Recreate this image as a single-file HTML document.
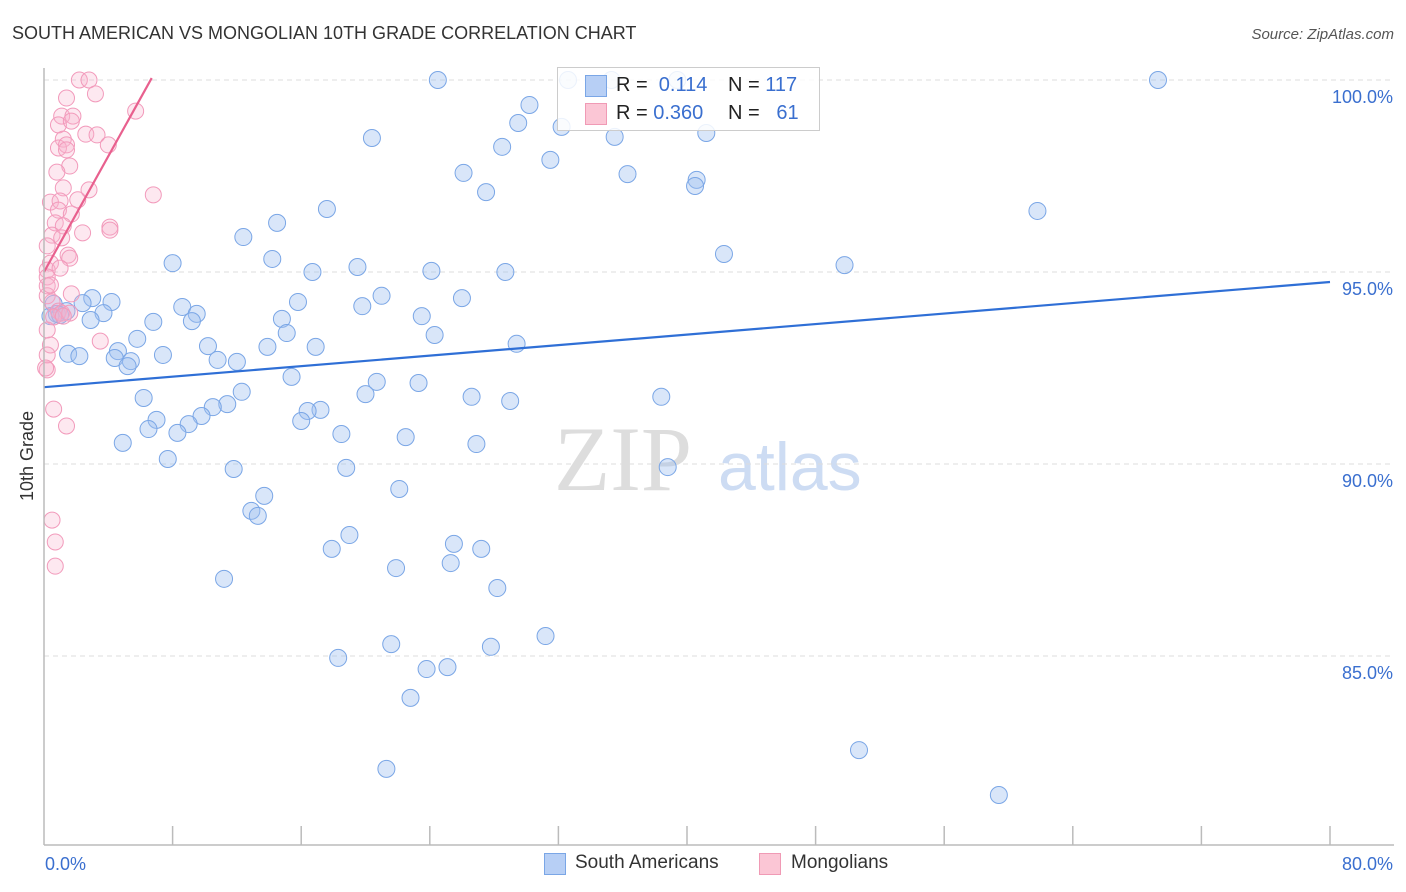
<!DOCTYPE html>
<html><head><meta charset="utf-8"><style>
body{margin:0;background:#fff;font-family:"Liberation Sans",sans-serif;}
#wrap{position:relative;width:1406px;height:892px;overflow:hidden;}
</style></head><body>
<div id="wrap">
<svg id="svg" width="1406" height="892" xmlns="http://www.w3.org/2000/svg">
<text x="12" y="39" font-size="18" fill="#333">SOUTH AMERICAN VS MONGOLIAN 10TH GRADE CORRELATION CHART</text>
<text x="1394" y="39" font-size="15" fill="#555" font-style="italic" text-anchor="end">Source: ZipAtlas.com</text>
<text x="33" y="456" font-size="18" fill="#333" text-anchor="middle" transform="rotate(-90 33 456)">10th Grade</text>
<text x="554" y="490" font-size="92" fill="#ddd" font-family="Liberation Serif,serif">ZIP</text>
<text x="718" y="490" font-size="68" fill="#cddcf3">atlas</text>
<g id="grid"></g><g id="marks"></g><g id="axes"></g>
</svg>
<div style="position:absolute;left:557px;top:67px;width:261px;height:62px;border:1px solid #ccc;background:rgba(255,255,255,0.85);font-size:20px;">
<div style="position:absolute;left:27px;top:7px;width:20px;height:20px;background:#b7cff5;border:1px solid #7aa6e6;"></div>
<div style="position:absolute;left:58px;top:6px;color:#222;">R = &nbsp;<span style="color:#3a6fcf">0.114</span></div>
<div style="position:absolute;left:170px;top:6px;color:#222;">N = <span style="color:#3a6fcf">117</span></div>
<div style="position:absolute;left:27px;top:35px;width:20px;height:20px;background:#fbc6d5;border:1px solid #f09ab5;"></div>
<div style="position:absolute;left:58px;top:34px;color:#222;">R = <span style="color:#3a6fcf">0.360</span></div>
<div style="position:absolute;left:170px;top:34px;color:#222;">N = &nbsp;&nbsp;<span style="color:#3a6fcf">61</span></div>
</div>
<div style="position:absolute;left:544px;top:853px;width:20px;height:20px;background:#b7cff5;border:1px solid #7aa6e6;"></div>
<div style="position:absolute;left:575px;top:852px;font-size:19px;color:#333;">South Americans</div>
<div style="position:absolute;left:759px;top:853px;width:20px;height:20px;background:#fbc6d5;border:1px solid #f09ab5;"></div>
<div style="position:absolute;left:791px;top:852px;font-size:19px;color:#333;">Mongolians</div>
</div>
<script>
const yTicks=[85,90,95,100];
const yTickLabels=["85.0%","90.0%","95.0%","100.0%"];
const xTickLabels=["0.0%","80.0%"];
const blueX=[24.5,32.6,35.3,39.4,69.3,30.2,29.5,32.2,20.4,35.5,41.2,28.5,31.5,26.1,36.3,27.5,40.6,40.5,17.6,61.8,14.5,12.4,42.3,8.0,14.2,19.5,24.1,28.7,49.8,16.7,3.0,0.6,2.4,4.2,8.6,9.5,15.8,21.0,26.0,19.8,23.5,0.8,1.4,3.7,2.9,6.8,9.2,14.8,15.1,24.3,5.8,10.2,13.9,16.9,29.4,1.5,2.2,4.6,4.4,5.4,5.2,7.4,10.8,12.0,15.4,20.7,23.3,12.3,20.0,6.2,26.6,29.0,38.4,7.0,11.4,10.5,9.8,17.2,16.4,16.0,9.0,6.5,8.3,18.5,22.5,4.9,26.9,7.7,11.8,18.8,38.8,13.7,22.1,12.9,13.3,19.0,17.9,25.5,27.2,25.3,21.9,11.2,28.2,31.2,21.6,18.3,27.8,23.8,25.1,22.8,50.7,21.3,59.4,1.0,0.4];
const blueY=[100,100,100,100,100,99.35,98.88,98.78,98.49,98.52,98.62,98.26,97.92,97.58,97.55,97.08,97.4,97.24,96.64,96.59,96.28,95.91,95.47,95.23,95.34,95.13,95.03,95.0,95.18,95.0,94.32,94.17,94.19,94.22,94.09,93.91,94.22,94.38,94.32,94.11,93.85,93.91,93.98,93.93,93.75,93.7,93.72,93.78,93.41,93.36,93.26,93.07,93.05,93.05,93.13,92.87,92.81,92.94,92.76,92.68,92.55,92.84,92.71,92.66,92.27,92.14,92.11,91.88,91.82,91.72,91.75,91.64,91.75,91.15,91.56,91.48,91.25,91.41,91.38,91.12,91.04,90.91,90.81,90.78,90.7,90.55,90.52,90.13,89.87,89.9,89.92,89.17,89.35,88.78,88.65,88.15,87.79,87.92,87.79,87.42,87.29,87.01,86.77,85.52,85.31,84.95,85.24,84.66,84.71,83.91,82.55,82.06,81.38,93.88,93.85];
const pinkX=[2.2,2.8,1.4,3.2,1.1,1.8,5.7,0.9,1.7,1.2,0.9,1.4,2.6,3.3,4.0,1.6,0.8,1.2,2.8,6.8,0.4,1.0,0.9,1.7,0.7,1.2,4.1,2.4,0.5,1.1,0.2,1.5,1.6,0.4,0.2,0.2,0.2,1.7,0.2,0.5,0.9,1.1,0.6,3.5,0.4,0.2,0.2,0.6,1.4,0.5,0.7,0.7,1.6,1.2,4.1,2.1,1.0,0.4,0.2,0.1,1.4];
const pinkY=[100,100,99.53,99.64,99.06,99.06,99.19,98.83,98.93,98.46,98.23,98.31,98.59,98.57,98.31,97.76,97.6,97.19,97.14,97.01,96.82,96.85,96.61,96.51,96.28,96.2,96.17,96.02,95.96,95.89,95.68,95.44,95.36,95.23,95.05,94.87,94.64,94.43,94.38,94.22,93.98,93.93,93.83,93.2,93.1,92.84,92.45,91.43,90.99,88.54,87.97,87.34,93.93,93.85,96.09,96.88,95.1,94.66,93.49,92.5,98.18];
const blueTrend=[[0,92.0],[80,94.74]];
const pinkTrend=[[0,95.0],[6.7,100.05]];
const X0=44,X1=1330;
function sx(v){return X0+(X1-X0)*v/80;}
function sy(v){return 80+(100-v)*38.4;}
const NS="http://www.w3.org/2000/svg";
function mk(tag,attrs,parent){const e=document.createElementNS(NS,tag);for(const k in attrs)e.setAttribute(k,attrs[k]);document.getElementById(parent).appendChild(e);return e;}
yTicks.forEach((t,i)=>{
 const l=mk('line',{x1:X0,x2:1394,y1:sy(t),y2:sy(t),stroke:'#ddd','stroke-dasharray':'5,4'},'grid');
 
 
 const tx=mk('text',{x:1393,y:sy(t)+23,'font-size':18,fill:'#3a6fcf','text-anchor':'end'},'grid');
 tx.textContent=yTickLabels[i];
 
 
});
blueX.forEach((v,i)=>{
 const c=mk('circle',{cx:sx(v),cy:sy(blueY[i]),r:8.5,fill:'rgba(160,192,240,0.4)',stroke:'#7aa6e6','stroke-width':1},'marks');
 
 
});
pinkX.forEach((v,i)=>{
 const c=mk('circle',{cx:sx(v),cy:sy(pinkY[i]),r:8,fill:'rgba(248,180,205,0.3)',stroke:'#f29abb','stroke-width':1},'marks');
 
 
});
const bl=mk('line',{x1:sx(blueTrend[0][0]),y1:sy(blueTrend[0][1]),x2:sx(blueTrend[1][0]),y2:sy(blueTrend[1][1]),stroke:'#2f6fd6','stroke-width':2.2},'marks');


const pl=mk('line',{x1:sx(pinkTrend[0][0]),y1:sy(pinkTrend[0][1]),x2:sx(pinkTrend[1][0]),y2:sy(pinkTrend[1][1]),stroke:'#e8608e','stroke-width':2.2},'marks');


const ya=mk('line',{x1:X0,x2:X0,y1:68,y2:845,stroke:'#bbb','stroke-width':1.5},'axes');


const xa=mk('line',{x1:X0,x2:1394,y1:845,y2:845,stroke:'#bbb','stroke-width':1.5},'axes');


for(let i=1;i<=10;i++){
 const t=mk('line',{x1:sx(i*8),x2:sx(i*8),y1:826,y2:845,stroke:'#bbb','stroke-width':1.5},'axes');
 
 
}
const xl0=mk('text',{x:45,y:870,'font-size':18,fill:'#3a6fcf'},'axes');
xl0.textContent=xTickLabels[0];


const xl1=mk('text',{x:1393,y:870,'font-size':18,fill:'#3a6fcf','text-anchor':'end'},'axes');
xl1.textContent=xTickLabels[1];


</script>
</body></html>
